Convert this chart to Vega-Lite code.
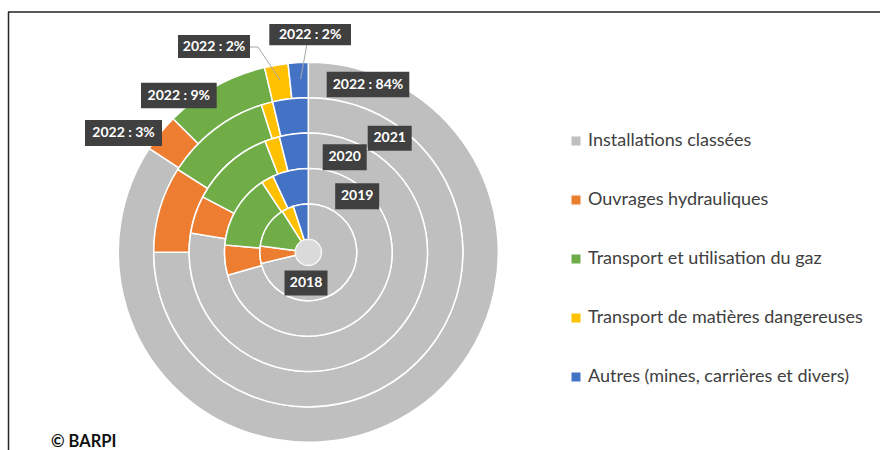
{
  "$schema": "https://vega.github.io/schema/vega-lite/v6.json",
  "autosize": {"type": "none"},
  "padding": {"left": 8, "top": 12, "right": -2, "bottom": -2},
  "width": 874,
  "height": 440,
  "background": "white",
  "view": {"stroke": null},
  "title": {"text": "© BARPI", "orient": "top", "anchor": "start", "frame": "group", "offset": 0, "dx": 43, "dy": 452, "baseline": "alphabetic", "font": "Lato", "fontSize": 16.5, "fontWeight": "bold", "color": "#111111"},
  "config": {
    "legend": {"orient": "none", "legendX": 559, "legendY": 120, "symbolType": "square", "symbolSize": 81, "symbolStrokeWidth": 0, "labelFont": "Lato", "labelFontSize": 18, "labelColor": "#404040", "rowPadding": 41, "labelOffset": 3, "labelLimit": 400, "padding": 0}
  },
  "data": {"values": [
    {"annee": 2018, "categorie": "Installations classées", "part": 71.3, "rang": 1},
    {"annee": 2018, "categorie": "Ouvrages hydrauliques", "part": 5.8, "rang": 2},
    {"annee": 2018, "categorie": "Transport et utilisation du gaz", "part": 13.9, "rang": 3},
    {"annee": 2018, "categorie": "Transport de matières dangereuses", "part": 4.0, "rang": 4},
    {"annee": 2018, "categorie": "Autres (mines, carrières et divers)", "part": 5.0, "rang": 5},
    {"annee": 2019, "categorie": "Installations classées", "part": 70.6, "rang": 1},
    {"annee": 2019, "categorie": "Ouvrages hydrauliques", "part": 5.8, "rang": 2},
    {"annee": 2019, "categorie": "Transport et utilisation du gaz", "part": 14.3, "rang": 3},
    {"annee": 2019, "categorie": "Transport de matières dangereuses", "part": 2.4, "rang": 4},
    {"annee": 2019, "categorie": "Autres (mines, carrières et divers)", "part": 6.9, "rang": 5},
    {"annee": 2020, "categorie": "Installations classées", "part": 77.6, "rang": 1},
    {"annee": 2020, "categorie": "Ouvrages hydrauliques", "part": 5.1, "rang": 2},
    {"annee": 2020, "categorie": "Transport et utilisation du gaz", "part": 11.4, "rang": 3},
    {"annee": 2020, "categorie": "Transport de matières dangereuses", "part": 2.0, "rang": 4},
    {"annee": 2020, "categorie": "Autres (mines, carrières et divers)", "part": 3.9, "rang": 5},
    {"annee": 2021, "categorie": "Installations classées", "part": 75.0, "rang": 1},
    {"annee": 2021, "categorie": "Ouvrages hydrauliques", "part": 9.0, "rang": 2},
    {"annee": 2021, "categorie": "Transport et utilisation du gaz", "part": 11.1, "rang": 3},
    {"annee": 2021, "categorie": "Transport de matières dangereuses", "part": 1.2, "rang": 4},
    {"annee": 2021, "categorie": "Autres (mines, carrières et divers)", "part": 3.7, "rang": 5},
    {"annee": 2022, "categorie": "Installations classées", "part": 84.2, "rang": 1, "etiquette": "2022 : 84%"},
    {"annee": 2022, "categorie": "Ouvrages hydrauliques", "part": 3.2, "rang": 2, "etiquette": "2022 : 3%"},
    {"annee": 2022, "categorie": "Transport et utilisation du gaz", "part": 8.9, "rang": 3, "etiquette": "2022 : 9%"},
    {"annee": 2022, "categorie": "Transport de matières dangereuses", "part": 2.0, "rang": 4, "etiquette": "2022 : 2%"},
    {"annee": 2022, "categorie": "Autres (mines, carrières et divers)", "part": 1.7, "rang": 5, "etiquette": "2022 : 2%"}
  ]},
  "encoding": {
    "theta": {"field": "part", "type": "quantitative", "stack": true},
    "order": {"field": "rang", "type": "quantitative"},
    "color": {"field": "categorie", "type": "nominal", "title": null,
      "scale": {"domain": ["Installations classées", "Ouvrages hydrauliques", "Transport et utilisation du gaz", "Transport de matières dangereuses", "Autres (mines, carrières et divers)"],
                "range": ["#BFBFBF", "#ED7D31", "#70AD47", "#FFC000", "#4472C4"]}}
  },
  "layer": [
    {"transform": [{"filter": "datum.annee == 2022"}], "mark": {"type": "arc", "x": 300.3, "y": 240.3, "radius": 190, "radius2": 154.6, "stroke": "white", "strokeWidth": 1.5}},
    {"transform": [{"filter": "datum.annee == 2021"}], "mark": {"type": "arc", "x": 300.3, "y": 240.3, "radius": 154.6, "radius2": 119.2, "stroke": "white", "strokeWidth": 1.5}},
    {"transform": [{"filter": "datum.annee == 2020"}], "mark": {"type": "arc", "x": 300.3, "y": 240.3, "radius": 119.2, "radius2": 83.8, "stroke": "white", "strokeWidth": 1.5}},
    {"transform": [{"filter": "datum.annee == 2019"}], "mark": {"type": "arc", "x": 300.3, "y": 240.3, "radius": 83.8, "radius2": 48.4, "stroke": "white", "strokeWidth": 1.5}},
    {"transform": [{"filter": "datum.annee == 2018"}], "mark": {"type": "arc", "x": 300.3, "y": 240.3, "radius": 48.4, "radius2": 13, "stroke": "white", "strokeWidth": 1.5}},
    {"transform": [{"filter": "datum.annee == 2018 && datum.rang == 1"}], "mark": {"type": "arc", "x": 300.3, "y": 240.3, "radius": 12.5, "radius2": 0, "theta": 0, "theta2": 6.2832, "fill": "#DADADA", "stroke": "#E6E6E6", "strokeWidth": 1}, "encoding": {"theta": null, "color": null, "order": null}},
    {"transform": [{"filter": "datum.annee == 2018 && datum.rang == 1"}], "mark": {"type": "rule", "color": "#595959", "strokeWidth": 2},
     "encoding": {"theta": null, "color": null, "order": null, "x": {"value": 0}, "x2": {"value": 874}, "y": {"value": 0}}},
    {"transform": [{"filter": "datum.annee == 2018 && datum.rang == 1"}], "mark": {"type": "rule", "color": "#262626", "strokeWidth": 1.5},
     "encoding": {"theta": null, "color": null, "order": null, "x": {"value": 0.5}, "y": {"value": 0}, "y2": {"value": 440}}},
    {"transform": [{"filter": "datum.annee == 2022 && datum.rang == 4"}], "mark": {"type": "rule", "color": "#A6A6A6", "strokeWidth": 1},
     "encoding": {"theta": null, "color": null, "order": null, "x": {"value": 242}, "x2": {"value": 250}, "y": {"value": 35}, "y2": {"value": 35}}},
    {"transform": [{"filter": "datum.annee == 2022 && datum.rang == 4"}], "mark": {"type": "rule", "color": "#A6A6A6", "strokeWidth": 1},
     "encoding": {"theta": null, "color": null, "order": null, "x": {"value": 250}, "x2": {"value": 272}, "y": {"value": 35}, "y2": {"value": 68}}},
    {"transform": [{"filter": "datum.annee == 2022 && datum.rang == 5"}], "mark": {"type": "rule", "color": "#A6A6A6", "strokeWidth": 1},
     "encoding": {"theta": null, "color": null, "order": null, "x": {"value": 298.7}, "x2": {"value": 292.7}, "y": {"value": 33.3}, "y2": {"value": 67}}},
    {"transform": [{"filter": "datum.annee == 2018 && datum.rang == 1"}], "encoding": {"theta": null, "color": null, "order": null}, "layer": [
      {"mark": {"type": "rect", "x": 276.5, "x2": 319.5, "y": 258.5, "y2": 283.5, "color": "#404040"}},
      {"mark": {"type": "text", "font": "Lato", "fontWeight": "bold", "fontSize": 14, "color": "white", "align": "center", "baseline": "middle", "x": 298, "y": 271}, "encoding": {"text": {"field": "annee", "type": "nominal"}}}
    ]},
    {"transform": [{"filter": "datum.annee == 2019 && datum.rang == 1"}], "encoding": {"theta": null, "color": null, "order": null}, "layer": [
      {"mark": {"type": "rect", "x": 327.2, "x2": 371.2, "y": 171.2, "y2": 197.2, "color": "#404040"}},
      {"mark": {"type": "text", "font": "Lato", "fontWeight": "bold", "fontSize": 14, "color": "white", "align": "center", "baseline": "middle", "x": 349.2, "y": 184.2}, "encoding": {"text": {"field": "annee", "type": "nominal"}}}
    ]},
    {"transform": [{"filter": "datum.annee == 2020 && datum.rang == 1"}], "encoding": {"theta": null, "color": null, "order": null}, "layer": [
      {"mark": {"type": "rect", "x": 314.7, "x2": 358.7, "y": 132.2, "y2": 158.2, "color": "#404040"}},
      {"mark": {"type": "text", "font": "Lato", "fontWeight": "bold", "fontSize": 14, "color": "white", "align": "center", "baseline": "middle", "x": 336.7, "y": 145.2}, "encoding": {"text": {"field": "annee", "type": "nominal"}}}
    ]},
    {"transform": [{"filter": "datum.annee == 2021 && datum.rang == 1"}], "encoding": {"theta": null, "color": null, "order": null}, "layer": [
      {"mark": {"type": "rect", "x": 359.7, "x2": 403.7, "y": 113.8, "y2": 138.8, "color": "#404040"}},
      {"mark": {"type": "text", "font": "Lato", "fontWeight": "bold", "fontSize": 14, "color": "white", "align": "center", "baseline": "middle", "x": 381.7, "y": 126.3}, "encoding": {"text": {"field": "annee", "type": "nominal"}}}
    ]},
    {"transform": [{"filter": "datum.annee == 2022 && datum.rang == 1"}], "encoding": {"theta": null, "color": null, "order": null}, "layer": [
      {"mark": {"type": "rect", "x": 318.7, "x2": 401.3, "y": 59.7, "y2": 85.3, "color": "#404040"}},
      {"mark": {"type": "text", "font": "Lato", "fontWeight": "bold", "fontSize": 14, "color": "white", "align": "center", "baseline": "middle", "x": 360, "y": 72.5}, "encoding": {"text": {"field": "etiquette", "type": "nominal"}}}
    ]},
    {"transform": [{"filter": "datum.annee == 2022 && datum.rang == 2"}], "encoding": {"theta": null, "color": null, "order": null}, "layer": [
      {"mark": {"type": "rect", "x": 77, "x2": 154, "y": 108, "y2": 134, "color": "#404040"}},
      {"mark": {"type": "text", "font": "Lato", "fontWeight": "bold", "fontSize": 14, "color": "white", "align": "center", "baseline": "middle", "x": 115.5, "y": 121}, "encoding": {"text": {"field": "etiquette", "type": "nominal"}}}
    ]},
    {"transform": [{"filter": "datum.annee == 2022 && datum.rang == 3"}], "encoding": {"theta": null, "color": null, "order": null}, "layer": [
      {"mark": {"type": "rect", "x": 133, "x2": 208.7, "y": 70.7, "y2": 96.3, "color": "#404040"}},
      {"mark": {"type": "text", "font": "Lato", "fontWeight": "bold", "fontSize": 14, "color": "white", "align": "center", "baseline": "middle", "x": 170.8, "y": 83.5}, "encoding": {"text": {"field": "etiquette", "type": "nominal"}}}
    ]},
    {"transform": [{"filter": "datum.annee == 2022 && datum.rang == 4"}], "encoding": {"theta": null, "color": null, "order": null}, "layer": [
      {"mark": {"type": "rect", "x": 170, "x2": 242, "y": 23, "y2": 46, "color": "#404040"}},
      {"mark": {"type": "text", "font": "Lato", "fontWeight": "bold", "fontSize": 14, "color": "white", "align": "center", "baseline": "middle", "x": 206, "y": 34.5}, "encoding": {"text": {"field": "etiquette", "type": "nominal"}}}
    ]},
    {"transform": [{"filter": "datum.annee == 2022 && datum.rang == 5"}], "encoding": {"theta": null, "color": null, "order": null}, "layer": [
      {"mark": {"type": "rect", "x": 261.3, "x2": 343, "y": 12, "y2": 33.3, "color": "#404040"}},
      {"mark": {"type": "text", "font": "Lato", "fontWeight": "bold", "fontSize": 14, "color": "white", "align": "center", "baseline": "middle", "x": 302.2, "y": 22.7}, "encoding": {"text": {"field": "etiquette", "type": "nominal"}}}
    ]}
  ]
}
